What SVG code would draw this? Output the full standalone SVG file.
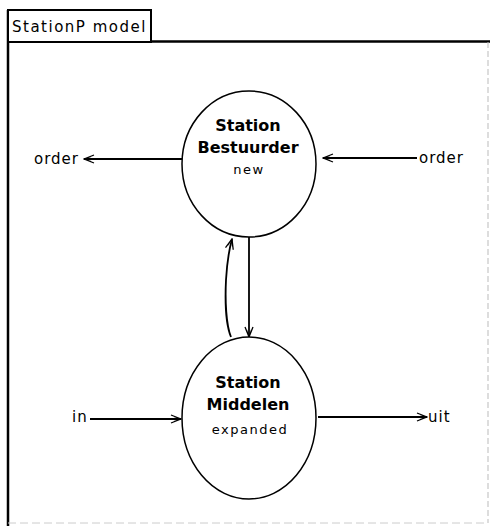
<svg xmlns="http://www.w3.org/2000/svg" width="490" height="526" viewBox="0 0 490 526">
<style>
.t{font-family:"DejaVu Sans",sans-serif;fill:#000}
.lbl{font-size:15px;letter-spacing:1px}
.bold{font-size:16px;font-weight:bold}
.sub{font-size:13px;letter-spacing:1.5px}
.node{fill:#fff;stroke:#000;stroke-width:1.5}
.conn{fill:none;stroke:#000;stroke-width:1.8}
</style>
<defs>
<marker id="ah" viewBox="0 0 12 10" refX="11" refY="5" markerWidth="12" markerHeight="10" markerUnits="userSpaceOnUse" orient="auto">
<path d="M1,1 L11,5 L1,9 M4,2.5 L11,5 L4,7.5" fill="none" stroke="#000" stroke-width="1.3"/>
</marker>
</defs>
<g id="frame">
<rect x="0" y="0" width="490" height="526" fill="#fff"/>
<line x1="8" y1="10" x2="8" y2="526" stroke="#000" stroke-width="2.5"/>
<line x1="151" y1="41.5" x2="490" y2="41.5" stroke="#000" stroke-width="2.5"/>
<line x1="488" y1="42" x2="488" y2="523" stroke="#bbb" stroke-width="1" stroke-dasharray="6 3"/>
<line x1="8" y1="523" x2="488" y2="523" stroke="#ccc" stroke-width="1" stroke-dasharray="8 4"/>
<rect x="8" y="10" width="143" height="32" fill="#fff" stroke="#000" stroke-width="2"/>
<text class="t" x="12" y="32" font-size="15" letter-spacing="1.5">StationP model</text>
</g>
<g id="connectors">
<line class="conn" x1="182" y1="159" x2="84" y2="159" marker-end="url(#ah)"/>
<line class="conn" x1="417" y1="158" x2="323" y2="158" marker-end="url(#ah)"/>
<line class="conn" x1="249" y1="237" x2="249" y2="337" marker-end="url(#ah)"/>
<path class="conn" d="M231,337 C226,325 225,300 226,280 C227,262 229,250 232,239" marker-end="url(#ah)"/>
<line class="conn" x1="90" y1="419" x2="181" y2="419" marker-end="url(#ah)"/>
<line class="conn" x1="318" y1="417" x2="427" y2="417" marker-end="url(#ah)"/>
</g>
<g id="n_bestuurder">
<ellipse class="node" cx="249" cy="164" rx="67" ry="73"/>
<text class="t bold" x="248" y="131" text-anchor="middle">Station</text>
<text class="t bold" x="248" y="153" text-anchor="middle">Bestuurder</text>
<text class="t sub" x="249" y="174" text-anchor="middle">new</text>
</g>
<g id="n_middelen">
<ellipse class="node" cx="249" cy="418" rx="67" ry="81"/>
<text class="t bold" x="248" y="388" text-anchor="middle">Station</text>
<text class="t bold" x="248" y="410" text-anchor="middle">Middelen</text>
<text class="t sub" x="250" y="434" text-anchor="middle">expanded</text>
</g>
<g id="labels">
<text class="t lbl" x="34" y="164">order</text>
<text class="t lbl" x="419" y="163">order</text>
<text class="t lbl" x="72" y="422">in</text>
<text class="t lbl" x="428" y="422">uit</text>
</g>
</svg>
